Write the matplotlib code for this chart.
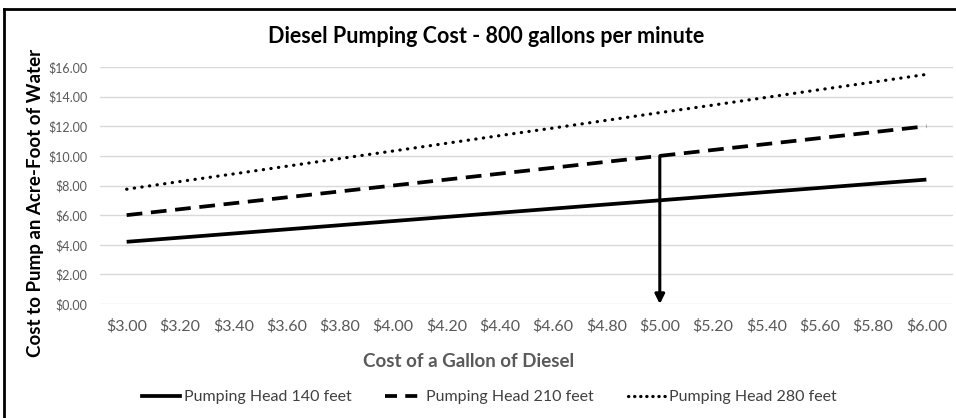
import matplotlib.pyplot as plt
from matplotlib.lines import Line2D

# diesel price categories ($ per gallon)
diesel_labels = ["$3.00", "$3.20", "$3.40", "$3.60", "$3.80", "$4.00", "$4.20", "$4.40",
                 "$4.60", "$4.80", "$5.00", "$5.20", "$5.40", "$5.60", "$5.80", "$6.00"]

# cost to pump an acre-foot of water
head_140 = [4.20, 4.48, 4.76, 5.04, 5.32, 5.60, 5.88, 6.16,
            6.44, 6.72, 7.00, 7.28, 7.56, 7.84, 8.12, 8.40]
head_210 = [6.00, 6.40, 6.80, 7.20, 7.60, 8.00, 8.40, 8.80,
            9.20, 9.60, 10.00, 10.40, 10.80, 11.20, 11.60, 12.00]
head_280 = [7.75, 8.27, 8.78, 9.30, 9.82, 10.33, 10.85, 11.37,
            11.88, 12.40, 12.92, 13.43, 13.95, 14.47, 14.98, 15.50]

y_ticks = [0, 2, 4, 6, 8, 10, 12, 14, 16]

# arrow marks the $5.00 diesel price on the 210 ft line
arrow_index = 10

FONT = "Lato"
GREY = "#595959"

fig = plt.figure(figsize=(9.56, 4.18), dpi=100)
ax = fig.add_axes([0.1046, 0.2727, 0.8923, 0.567])

x = list(range(len(diesel_labels)))
ax.plot(x, head_140, color="black", lw=2.7, solid_capstyle="butt")
ax.plot(x, head_210, color="black", lw=2.7, dashes=(4.2, 2.3), dash_capstyle="butt")
ax.plot(x, head_280, color="black", lw=2.3, dashes=(0.1, 2.3), dash_capstyle="round")

ax.annotate("", xy=(arrow_index, 0), xytext=(arrow_index, head_210[arrow_index]),
            arrowprops=dict(arrowstyle="-|>", color="black", lw=2.2,
                            mutation_scale=14, shrinkA=0, shrinkB=0))

ax.set_xlim(-0.5, len(diesel_labels) - 0.5)
ax.set_ylim(0, 16)
ax.set_xticks(x)
ax.set_xticklabels(diesel_labels, fontsize=11.5, color=GREY, family=FONT)
ax.set_yticks(y_ticks)
ax.set_yticklabels([f"${v:.2f}" for v in y_ticks], fontsize=9, color=GREY, family=FONT)
ax.tick_params(axis="both", length=0)
ax.tick_params(axis="x", pad=11)
ax.tick_params(axis="y", pad=9)
ax.grid(axis="y", color="#d9d9d9", lw=1)
ax.set_axisbelow(True)
for s in ax.spines.values():
    s.set_visible(False)

fig.text(0.508, 0.912, "Diesel Pumping Cost - 800 gallons per minute",
         ha="center", va="center", fontsize=15.5, fontweight="bold", family=FONT)
fig.text(0.037, 0.515, "Cost to Pump an Acre-Foot of Water", rotation=90,
         ha="center", va="center", fontsize=13.5, fontweight="bold", family=FONT)
fig.text(0.49, 0.134, "Cost of a Gallon of Diesel", ha="center", va="center",
         fontsize=13.5, fontweight="bold", color=GREY, family=FONT)

handles = [
    Line2D([], [], color="black", lw=2.7),
    Line2D([], [], color="black", lw=2.7, dashes=(3.2, 2.2)),
    Line2D([], [], color="black", lw=2.3, dashes=(0.1, 1.8), dash_capstyle="round"),
]
labels = ["Pumping Head 140 feet", "Pumping Head 210 feet", "Pumping Head 280 feet"]
fig.legend(handles, labels, loc="center", bbox_to_anchor=(0.512, 0.05), ncol=3,
           frameon=False, handlelength=2.4, handletextpad=0.2, columnspacing=2.1,
           prop={"family": FONT, "size": 11.5}, labelcolor="#404040")

# outer chart frame (left and top edges visible)
fig.add_artist(Line2D([0.0045, 0.0045], [0.0, 0.978], transform=fig.transFigure,
                      color="black", lw=2))
fig.add_artist(Line2D([0.0045, 1.0], [0.978, 0.978], transform=fig.transFigure,
                      color="black", lw=2))

fig.savefig("out.png", dpi=100)
